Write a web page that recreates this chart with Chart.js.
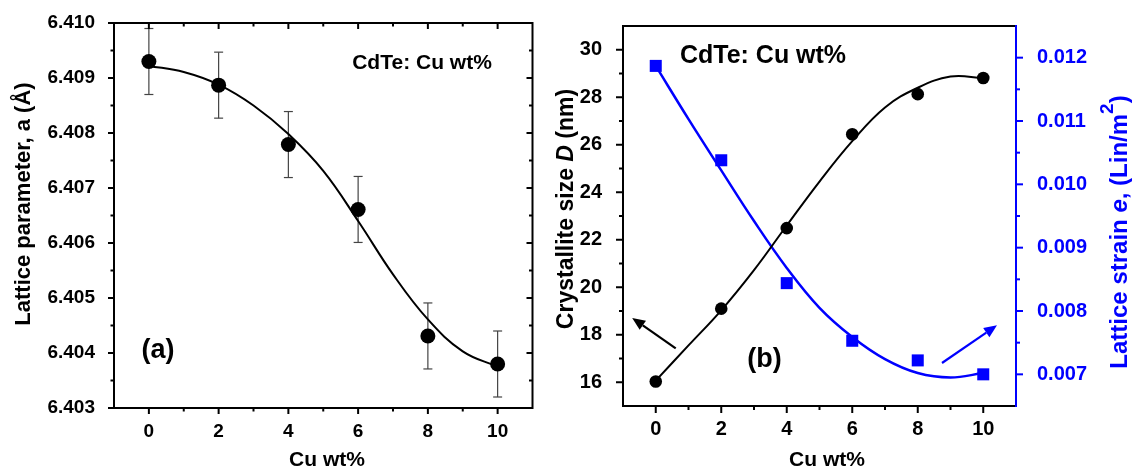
<!DOCTYPE html>
<html>
<head>
<meta charset="utf-8">
<script src="https://cdn.jsdelivr.net/npm/chart.js"></script>
<style>
html, body { margin: 0; padding: 0; background: #fff; }
#wrap { position: relative; width: 1132px; height: 471px; overflow: hidden; }
canvas { position: absolute; top: 0; }
</style>
</head>
<body>
<div id="wrap">
  <canvas id="chartA" width="540" height="471" style="left:0"></canvas>
  <canvas id="chartB" width="592" height="471" style="left:540px"></canvas>
</div>
<script>
// measured points
const cuWt = [0, 2, 4, 6, 8, 10];
const latticeA = [6.4093, 6.40887, 6.40779, 6.40661, 6.40431, 6.4038];
const latticeErr = [0.0006, 0.0006, 0.0006, 0.0006, 0.0006, 0.0006];
const crystSize = [16.03, 19.1, 22.49, 26.44, 28.13, 28.81];
const strain = [0.01187, 0.01038, 0.00844, 0.00753, 0.00722, 0.00700];

// fitted curves
const fitX = [0, 1, 2, 3, 4, 5, 6, 7, 8, 9, 10];
const latticeFit = [6.40922, 6.40911, 6.40888, 6.4085, 6.40798, 6.40731, 6.4064, 6.40543, 6.40461, 6.40403, 6.40375];
const crystFit = [16.07, 17.55, 19.03, 20.72, 22.6, 24.45, 26.15, 27.57, 28.4, 28.87, 28.81];
const strainFit = [0.01187, 0.01103, 0.01022, 0.00942, 0.00868, 0.00805, 0.00759, 0.00724, 0.00702, 0.00695, 0.00702];

// ticks
const xMajor = [0, 2, 4, 6, 8, 10];
const xMinor = [1, 3, 5, 7, 9];
const aMajor = [6.403, 6.404, 6.405, 6.406, 6.407, 6.408, 6.409, 6.410];
const aMinor = [6.4035, 6.4045, 6.4055, 6.4065, 6.4075, 6.4085, 6.4095];
const dMajor = [16, 18, 20, 22, 24, 26, 28, 30];
const dMinor = [17, 19, 21, 23, 25, 27, 29];
const eMajor = [0.007, 0.008, 0.009, 0.010, 0.011, 0.012];
const eMinor = [0.0075, 0.0085, 0.0095, 0.0105, 0.0115];

// arrows in (b): [x1, y1, x2, y2] in data units of the left axis
const arrowBlack = [0.61, 17.43, -0.72, 18.71];
const arrowBlue = [8.74, 16.81, 10.42, 18.40];

const FONT = "'Liberation Sans', Arial, sans-serif";
const BLUE = "#0000ff";

function pts(xs, ys) {
  return xs.map((x, i) => ({ x: x, y: ys[i] }));
}

function tickMarks(ctx, scale, vals, pos, vertical, len, dir) {
  vals.forEach(v => {
    const p = scale.getPixelForValue(v);
    ctx.beginPath();
    if (vertical) { ctx.moveTo(pos, p); ctx.lineTo(pos + dir * len, p); }
    else { ctx.moveTo(p, pos); ctx.lineTo(p, pos + dir * len); }
    ctx.stroke();
  });
}

function line(ctx, x1, y1, x2, y2) {
  ctx.beginPath(); ctx.moveTo(x1, y1); ctx.lineTo(x2, y2); ctx.stroke();
}

function richText(ctx, parts, cx, cy, rot, color) {
  ctx.save();
  ctx.translate(cx, cy); ctx.rotate(rot);
  ctx.fillStyle = color; ctx.textBaseline = "middle"; ctx.textAlign = "left";
  let total = 0;
  parts.forEach(p => { ctx.font = p.font; total += ctx.measureText(p.t).width; });
  let x = -total / 2;
  parts.forEach(p => {
    ctx.font = p.font;
    ctx.fillText(p.t, x, p.dy || 0);
    x += ctx.measureText(p.t).width;
  });
  ctx.restore();
}

function arrow(ctx, x1, y1, x2, y2, color) {
  const ang = Math.atan2(y2 - y1, x2 - x1), head = 13, w = 5.5;
  const bx = x2 - head * Math.cos(ang), by = y2 - head * Math.sin(ang);
  ctx.save();
  ctx.strokeStyle = color; ctx.fillStyle = color; ctx.lineWidth = 2.2;
  line(ctx, x1, y1, bx, by);
  ctx.beginPath();
  ctx.moveTo(x2, y2);
  ctx.lineTo(bx + w * Math.sin(ang), by - w * Math.cos(ang));
  ctx.lineTo(bx - w * Math.sin(ang), by + w * Math.cos(ang));
  ctx.closePath(); ctx.fill();
  ctx.restore();
}

function tickFont(size) { return { family: FONT, size: size, weight: "bold" }; }

/* ---------- panel (a) ---------- */
const decorA = {
  id: "decorA",
  beforeDatasetsDraw(chart) {
    const ctx = chart.ctx, xs = chart.scales.x, ys = chart.scales.y;
    ctx.save();
    ctx.strokeStyle = "#444"; ctx.lineWidth = 1.2;
    cuWt.forEach((x, i) => {
      const px = xs.getPixelForValue(x);
      const top = ys.getPixelForValue(latticeA[i] + latticeErr[i]);
      const bot = ys.getPixelForValue(latticeA[i] - latticeErr[i]);
      line(ctx, px, top, px, bot);
      line(ctx, px - 4.5, top, px + 4.5, top);
      line(ctx, px - 4.5, bot, px + 4.5, bot);
    });
    ctx.restore();
  },
  afterDraw(chart) {
    const ctx = chart.ctx, a = chart.chartArea, xs = chart.scales.x, ys = chart.scales.y;
    ctx.save();
    ctx.strokeStyle = "#000"; ctx.lineWidth = 2;
    ctx.strokeRect(a.left, a.top, a.right - a.left, a.bottom - a.top);
    tickMarks(ctx, ys, aMajor, a.left, true, 6, -1);
    tickMarks(ctx, ys, aMinor, a.left, true, 3.5, -1);
    tickMarks(ctx, ys, aMajor, a.right, true, 6, -1);
    tickMarks(ctx, ys, aMinor, a.right, true, 3.5, -1);
    tickMarks(ctx, xs, xMajor, a.bottom, false, 6, 1);
    tickMarks(ctx, xs, xMinor, a.bottom, false, 3.5, 1);
    tickMarks(ctx, xs, xMajor, a.top, false, 6, 1);
    tickMarks(ctx, xs, xMinor, a.top, false, 3.5, 1);
    ctx.restore();

    richText(ctx, [{ t: "CdTe: Cu wt%", font: "bold 21px " + FONT }], 422, 63, 0, "#000");
    richText(ctx, [{ t: "(a)", font: "bold 27px " + FONT }], 158, 351, 0, "#000");
    richText(ctx, [{ t: "Lattice parameter, a (Å)", font: "bold 22px " + FONT }], 24, 204, -Math.PI / 2, "#000");
    richText(ctx, [{ t: "Cu wt%", font: "bold 21px " + FONT }], 327, 460, 0, "#000");
  }
};

new Chart(document.getElementById("chartA"), {
  type: "line",
  data: {
    datasets: [
      { data: pts(cuWt, latticeA), showLine: false, pointRadius: 7.5,
        pointBackgroundColor: "#000", pointBorderColor: "#000", borderWidth: 0 },
      { data: pts(fitX, latticeFit), borderColor: "#000", borderWidth: 2,
        pointRadius: 0, tension: 0.4, fill: false }
    ]
  },
  options: {
    responsive: false, animation: false, events: [],
    layout: { padding: { left: 0, top: 23, right: 3, bottom: 0 } },
    plugins: { legend: { display: false }, tooltip: { enabled: false } },
    scales: {
      x: {
        type: "linear", min: -1, max: 11,
        afterFit(s) { s.height = 63; },
        grid: { display: false }, border: { display: false },
        ticks: {
          stepSize: 1, autoSkip: false, maxRotation: 0, padding: 4,
          color: "#000", font: tickFont(19),
          callback(v) { return xMajor.includes(v) ? String(v) : ""; }
        }
      },
      y: {
        min: 6.403, max: 6.410,
        afterFit(s) { s.width = 114; },
        grid: { display: false }, border: { display: false },
        ticks: {
          stepSize: 0.001, autoSkip: false, padding: 11,
          color: "#000", font: tickFont(19),
          callback(v) { return v.toFixed(3); }
        }
      }
    }
  },
  plugins: [decorA]
});

/* ---------- panel (b) ---------- */
const decorB = {
  id: "decorB",
  afterDraw(chart) {
    const ctx = chart.ctx, a = chart.chartArea, xs = chart.scales.x;
    const ys = chart.scales.y, y2 = chart.scales.y2;
    ctx.save();
    ctx.lineWidth = 2; ctx.strokeStyle = "#000";
    line(ctx, a.left, a.top, a.right, a.top);
    line(ctx, a.left, a.top - 1, a.left, a.bottom + 1);
    line(ctx, a.left - 1, a.bottom, a.right, a.bottom);
    tickMarks(ctx, ys, dMajor, a.left, true, 7, -1);
    tickMarks(ctx, ys, dMinor, a.left, true, 4, -1);
    tickMarks(ctx, xs, xMajor, a.bottom, false, 7, 1);
    tickMarks(ctx, xs, xMinor, a.bottom, false, 4, 1);
    ctx.strokeStyle = BLUE;
    line(ctx, a.right, a.top - 1, a.right, a.bottom + 1);
    tickMarks(ctx, y2, eMajor, a.right, true, 7, 1);
    tickMarks(ctx, y2, eMinor, a.right, true, 4, 1);
    ctx.restore();

    arrow(ctx, xs.getPixelForValue(arrowBlack[0]), ys.getPixelForValue(arrowBlack[1]),
      xs.getPixelForValue(arrowBlack[2]), ys.getPixelForValue(arrowBlack[3]), "#000");
    arrow(ctx, xs.getPixelForValue(arrowBlue[0]), ys.getPixelForValue(arrowBlue[1]),
      xs.getPixelForValue(arrowBlue[2]), ys.getPixelForValue(arrowBlue[3]), BLUE);

    richText(ctx, [{ t: "CdTe: Cu wt%", font: "bold 25px " + FONT }], 223, 56, 0, "#000");
    richText(ctx, [{ t: "(b)", font: "bold 27px " + FONT }], 224.5, 360, 0, "#000");
    richText(ctx, [
      { t: "Crystallite size ", font: "bold 23px " + FONT },
      { t: "D", font: "italic bold 23px " + FONT },
      { t: " (nm)", font: "bold 23px " + FONT }
    ], 27, 209, -Math.PI / 2, "#000");
    richText(ctx, [
      { t: "Lattice strain ", font: "bold 24px " + FONT },
      { t: "e", font: "italic bold 24px " + FONT },
      { t: ", (Lin/m", font: "bold 24px " + FONT },
      { t: "2", font: "bold 19px " + FONT, dy: -12 },
      { t: ")", font: "bold 24px " + FONT }
    ], 580, 232, -Math.PI / 2, BLUE);
    richText(ctx, [{ t: "Cu wt%", font: "bold 21px " + FONT }], 287, 460, 0, "#000");
  }
};

new Chart(document.getElementById("chartB"), {
  type: "line",
  data: {
    datasets: [
      { data: pts(cuWt, crystSize), yAxisID: "y", showLine: false, pointRadius: 6.3,
        pointBackgroundColor: "#000", pointBorderColor: "#000", borderWidth: 0 },
      { data: pts(cuWt, strain), yAxisID: "y2", showLine: false, pointStyle: "rect",
        pointRadius: 8.5, pointBackgroundColor: BLUE, pointBorderColor: BLUE, borderWidth: 0 },
      { data: pts(fitX, crystFit), yAxisID: "y", borderColor: "#000", borderWidth: 2,
        pointRadius: 0, tension: 0.4, fill: false },
      { data: pts(fitX, strainFit), yAxisID: "y2", borderColor: BLUE, borderWidth: 2.5,
        pointRadius: 0, tension: 0.4, fill: false }
    ]
  },
  options: {
    responsive: false, animation: false, events: [],
    layout: { padding: { left: 0, top: 26, right: 0, bottom: 0 } },
    plugins: { legend: { display: false }, tooltip: { enabled: false } },
    scales: {
      x: {
        type: "linear", min: -1, max: 11,
        afterFit(s) { s.height = 65; },
        grid: { display: false }, border: { display: false },
        ticks: {
          stepSize: 1, autoSkip: false, maxRotation: 0, padding: 3,
          color: "#000", font: tickFont(20),
          callback(v) { return xMajor.includes(v) ? String(v) : ""; }
        }
      },
      y: {
        position: "left", min: 15, max: 31,
        afterFit(s) { s.width = 83; },
        grid: { display: false }, border: { display: false },
        ticks: {
          stepSize: 1, autoSkip: false, padding: 13,
          color: "#000", font: tickFont(20),
          callback(v) { return dMajor.includes(v) ? String(v) : ""; }
        }
      },
      y2: {
        position: "right", min: 0.0065, max: 0.0125,
        afterFit(s) { s.width = 116; },
        grid: { display: false }, border: { display: false },
        ticks: {
          stepSize: 0.0005, autoSkip: false, padding: 13,
          color: BLUE, font: tickFont(20),
          callback(v) {
            const k = Math.round(v * 10000);
            return (k % 10 === 0) ? v.toFixed(3) : "";
          }
        }
      }
    }
  },
  plugins: [decorB]
});
</script>
</body>
</html>
